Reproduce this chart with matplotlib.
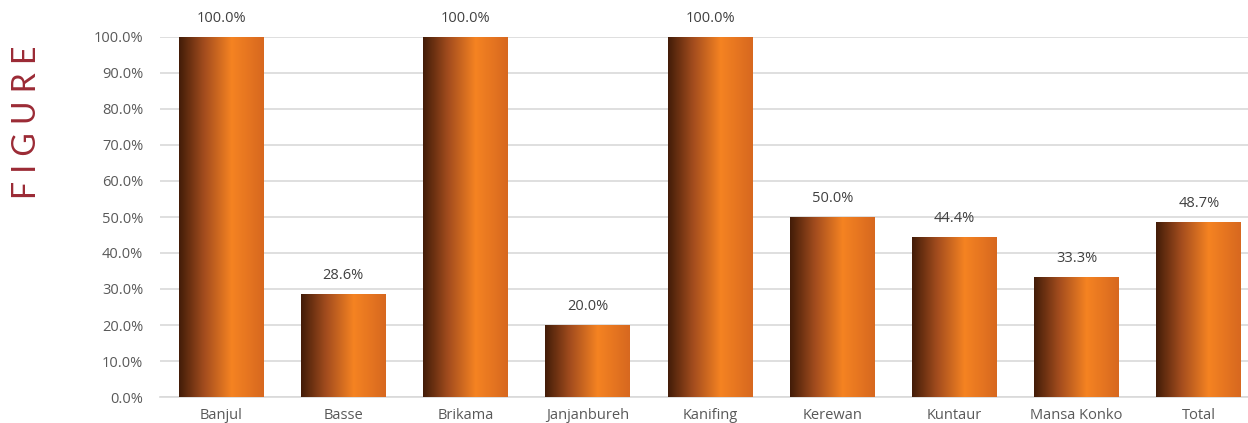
import numpy as np
import matplotlib
matplotlib.use('Agg')
import matplotlib.pyplot as plt
from matplotlib.colors import LinearSegmentedColormap
from matplotlib.patches import Rectangle

# data
regions = ['Banjul', 'Basse', 'Brikama', 'Janjanbureh', 'Kanifing',
           'Kerewan', 'Kuntaur', 'Mansa Konko', 'Total']
shares = [100.0, 28.6, 100.0, 20.0, 100.0, 50.0, 44.4, 33.3, 48.7]

plt.rcParams['font.family'] = ['Open Sans', 'DejaVu Sans']

W, H = 1248, 423
fig = plt.figure(figsize=(W / 100, H / 100), dpi=100)
ax = fig.add_axes([160 / W, 26 / H, 1100 / W, 360 / H])

# bar gradient: dark brown -> bright orange -> slightly darker orange
grad = LinearSegmentedColormap.from_list('bar', [
    (0.0, '#421c08'), (0.3, '#a44d1e'), (0.62, '#f58322'), (1.0, '#d7681f')])
gimg = np.linspace(0, 1, 256).reshape(1, -1)

width = 0.695
x = np.arange(len(regions))
for i, v in enumerate(shares):
    val = v / 100
    rect = Rectangle((i - width / 2, 0), width, val, facecolor='none',
                     edgecolor='none', zorder=3)
    ax.add_patch(rect)
    im = ax.imshow(gimg, cmap=grad, aspect='auto', zorder=3,
                   extent=(i - width / 2, i + width / 2, 0, val))
    im.set_clip_path(rect)
    ax.annotate('%.1f%%' % v, (i, val), xytext=(0, 8), textcoords='offset points',
                ha='center', va='bottom', fontsize=10.5, color='#404040')

ax.set_xlim(-0.5, len(regions) - 0.5)
ax.set_ylim(0, 1.0)
ax.set_yticks(np.arange(0, 1.01, 0.1))
ax.set_yticklabels(['%.1f%%' % (t * 100) for t in np.arange(0, 1.01, 0.1)])
ax.set_xticks(x)
ax.set_xticklabels(regions)
ax.tick_params(axis='both', length=0, labelsize=10.5, labelcolor='#595959')
ax.tick_params(axis='y', pad=12)
ax.tick_params(axis='x', pad=8)
ax.grid(axis='y', color='#d9d9d9', linewidth=1.2, zorder=0)
ax.set_axisbelow(True)
for s in ['top', 'right', 'left']:
    ax.spines[s].set_visible(False)
ax.spines['bottom'].set_color('#d9d9d9')
ax.spines['bottom'].set_linewidth(1.2)

fig.text(27 / W, 1 - 122 / H, 'F I G U R E', rotation=90, ha='center', va='center',
         fontsize=23, color='#9b2a35', family=['Lato', 'DejaVu Sans'])

fig.savefig('out.png', dpi=100)
